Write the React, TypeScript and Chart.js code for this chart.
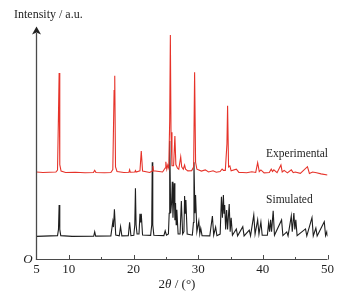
import React, { useEffect, useRef } from "react";
import { Chart, registerables } from "chart.js";

Chart.register(...registerables);

// Experimental pattern (2θ, intensity a.u.)
const expX = [
  5.0, 6.0, 7.0, 8.0, 8.25, 8.4, 8.5, 8.6, 8.8, 9.5, 11.0, 12.5, 13.8, 14.0, 14.2, 15.5, 16.5, 16.8, 17.0, 17.1,
  17.22, 17.45, 18.5, 19.3, 19.4, 19.5, 20.2, 20.3, 20.4, 21.0, 21.2, 21.4, 22.5, 22.9, 23.0, 23.1, 24.5, 24.9,
  25.0, 25.15, 25.3, 25.45, 25.6, 25.7, 25.8, 25.95, 26.2, 26.4, 26.55, 26.8, 27.0, 27.3, 27.45, 27.7, 27.9, 28.05,
  28.4, 29.0, 29.3, 29.45, 29.6, 29.8, 30.5, 31.1, 31.6, 32.3, 32.8, 33.4, 33.7, 33.9, 34.2, 34.45, 34.55, 34.7,
  34.9, 35.1, 35.9, 36.3, 36.9, 37.5, 38.3, 38.9, 39.2, 39.45, 39.7, 40.2, 41.0, 41.3, 41.5, 41.7, 42.2, 42.8,
  43.0, 43.3, 43.8, 44.4, 44.7, 45.0, 45.8, 46.9, 47.2, 47.7, 48.3, 49.0, 50.0,
];
const expY = [
  37.8, 37.6, 37.7, 37.8, 38.6, 63.0, 80.6, 41.0, 38.2, 37.6, 37.7, 37.5, 37.6, 38.5, 37.6, 37.5, 37.6, 38.8, 73.0, 79.4,
  40.0, 38.0, 37.6, 37.7, 38.7, 37.7, 37.8, 38.4, 37.8, 38.3, 46.9, 38.2, 37.6, 38.2, 40.4, 38.3, 37.8, 39.5,
  42.2, 39.0, 40.8, 39.5, 60.0, 97.0, 55.0, 40.5, 40.5, 53.3, 41.0, 39.5, 39.0, 44.3, 40.0, 39.0, 40.8, 39.0,
  38.3, 38.4, 40.0, 80.9, 42.0, 39.0, 38.2, 38.7, 37.8, 38.3, 37.7, 38.0, 39.1, 38.5, 38.5, 50.0, 66.4, 40.0,
  40.4, 38.3, 39.0, 37.6, 37.6, 37.5, 37.9, 37.6, 41.8, 38.0, 38.7, 37.4, 37.6, 39.0, 38.0, 38.7, 37.5, 40.8,
  37.8, 38.5, 37.4, 38.7, 37.5, 37.8, 37.2, 40.1, 37.2, 37.8, 37.5, 37.0, 36.5,
];

// Simulated pattern (2θ, intensity a.u.)
const simX = [
  5.0, 8.25, 8.4, 8.5, 8.6, 8.75, 10.5, 13.85, 14.0, 14.15, 16.5, 16.8, 16.9, 17.05, 17.25, 17.8, 18.0, 18.2, 19.2,
  19.4, 19.6, 20.05, 20.2, 20.3, 20.4, 20.55, 20.85, 21.0, 21.1, 21.2, 21.4, 22.65, 22.82, 22.9, 22.98, 23.15, 24.7,
  24.9, 25.1, 25.4, 25.52, 25.6, 25.75, 25.9, 26.0, 26.1, 26.3, 26.4, 26.5, 26.6, 26.7, 26.9, 27.2, 27.4, 27.6,
  27.8, 27.9, 28.0, 28.1, 28.3, 29.1, 29.27, 29.35, 29.5, 29.6, 29.8, 30.1, 30.25, 30.4, 30.6, 31.8, 32.2, 32.4,
  32.7, 32.9, 33.4, 33.6, 33.75, 33.9, 34.0, 34.1, 34.25, 34.4, 34.55, 34.8, 34.95, 35.1, 35.3, 35.9, 36.1, 36.9,
  37.1, 37.9, 38.1, 38.6, 38.8, 39.2, 39.4, 39.7, 39.9, 40.7, 40.9, 41.05, 41.2, 41.35, 41.6, 41.8, 42.9, 43.1,
  43.7, 43.9, 44.4, 44.55, 44.8, 44.95, 45.1, 45.3, 46.6, 46.8, 47.6, 47.8, 48.2, 48.4, 49.5, 49.7, 49.9, 50.0,
];
const simY = [
  10.0, 10.3, 13.0, 23.5, 13.0, 10.3, 10.0, 10.1, 12.0, 10.1, 10.2, 16.3, 14.0, 21.7, 10.6, 10.2, 14.2, 10.2, 10.3,
  16.1, 10.3, 10.5, 15.0, 30.8, 15.0, 11.0, 11.0, 19.7, 16.0, 19.7, 10.6, 10.4, 15.0, 42.0, 15.0, 10.5, 10.3,
  12.4, 10.5, 11.0, 20.0, 51.2, 20.0, 25.0, 33.6, 18.0, 32.9, 17.0, 24.4, 15.0, 21.5, 11.0, 11.0, 25.3, 11.0,
  12.0, 27.4, 20.0, 25.7, 11.0, 10.5, 16.0, 42.0, 20.0, 27.9, 12.0, 16.6, 11.0, 13.5, 10.3, 10.2, 18.8, 10.5,
  14.0, 10.3, 11.0, 27.1, 18.0, 27.9, 20.0, 23.5, 13.0, 21.4, 13.0, 24.0, 12.0, 18.0, 10.5, 13.2, 10.2, 14.2,
  10.2, 12.7, 10.2, 19.2, 11.0, 17.1, 11.0, 16.2, 10.5, 10.5, 15.8, 12.0, 17.1, 12.0, 21.0, 10.5, 17.1, 10.3,
  11.9, 10.2, 18.8, 12.0, 20.1, 13.0, 17.1, 10.3, 13.2, 10.2, 18.1, 10.2, 13.6, 10.2, 16.3, 10.3, 12.0, 10.0,
];

const seriesNames = ["Experimental", "Simulated"];
const seriesColors = ["#e6332a", "#1e1e1e"];
const seriesLabelX = [40.5, 40.5];
const seriesLabelY = [45.6, 25.7];

const xTickLabels = [5, 10, 20, 30, 40, 50];
const xMajorTicks = [10, 20, 30, 40, 50];
const xMinorTicks = [15, 25, 35, 45];
const yAxisTitle = "Intensity / a.u.";
const originLabel = "O";

const SERIF = '"Liberation Serif", "DejaVu Serif", serif';

const axesPlugin = {
  id: "customAxes",
  afterDatasetsDraw(chart: any) {
    const ctx = chart.ctx as CanvasRenderingContext2D;
    const xs = chart.scales.x;
    const ys = chart.scales.y;
    const x0 = xs.getPixelForValue(5);
    const x1 = xs.getPixelForValue(50);
    const yb = ys.getPixelForValue(0);
    ctx.save();
    ctx.strokeStyle = "#4a4a4a";
    ctx.lineWidth = 1.2;
    // x axis
    ctx.beginPath();
    ctx.moveTo(x0 - 0.6, yb);
    ctx.lineTo(x1, yb);
    ctx.stroke();
    ctx.lineWidth = 1;
    for (const t of xMajorTicks) {
      const px = Math.round(xs.getPixelForValue(t)) + 0.5;
      ctx.beginPath();
      ctx.moveTo(px, yb);
      ctx.lineTo(px, yb - 4.5);
      ctx.stroke();
    }
    for (const t of xMinorTicks) {
      const px = Math.round(xs.getPixelForValue(t)) + 0.5;
      ctx.beginPath();
      ctx.moveTo(px, yb);
      ctx.lineTo(px, yb - 2.5);
      ctx.stroke();
    }
    // y axis with arrow
    ctx.lineWidth = 1.3;
    ctx.beginPath();
    ctx.moveTo(x0, yb);
    ctx.lineTo(x0, 33);
    ctx.stroke();
    ctx.fillStyle = "#222";
    ctx.beginPath();
    ctx.moveTo(x0, 26.5);
    ctx.lineTo(x0 - 4.5, 34.5);
    ctx.lineTo(x0, 32.5);
    ctx.lineTo(x0 + 4.5, 34.5);
    ctx.closePath();
    ctx.fill();

    // tick labels
    ctx.fillStyle = "#1e1e1e";
    ctx.font = `13px ${SERIF}`;
    ctx.textAlign = "center";
    ctx.textBaseline = "middle";
    for (const t of xTickLabels) {
      ctx.fillText(String(t), xs.getPixelForValue(t), yb + 10.5);
    }
    // origin
    ctx.font = `italic 13px ${SERIF}`;
    ctx.fillText(originLabel, x0 - 8.5, yb);

    // y axis title
    ctx.font = `12px ${SERIF}`;
    ctx.textAlign = "left";
    ctx.fillText(yAxisTitle, 14, 15);

    // x axis title: 2θ / (°)
    const parts: [string, string][] = [
      ["2", `13px ${SERIF}`],
      ["θ", `italic 13px ${SERIF}`],
      [" / (°)", `13px ${SERIF}`],
    ];
    let total = 0;
    for (const [s, f] of parts) {
      ctx.font = f;
      total += ctx.measureText(s).width;
    }
    let cx = 177 - total / 2;
    for (const [s, f] of parts) {
      ctx.font = f;
      ctx.fillText(s, cx, 285);
      cx += ctx.measureText(s).width;
    }

    // series labels
    ctx.font = `11.5px ${SERIF}`;
    for (let i = 0; i < seriesNames.length; i++) {
      ctx.fillText(seriesNames[i], xs.getPixelForValue(seriesLabelX[i]), ys.getPixelForValue(seriesLabelY[i]));
    }
    ctx.restore();
  },
};

export default function App() {
  const ref = useRef<HTMLCanvasElement | null>(null);
  useEffect(() => {
    document.body.style.margin = "0";
    const canvas = ref.current;
    if (!canvas) return;
    const chart = new Chart(canvas, {
      type: "line",
      data: {
        datasets: [
          {
            label: seriesNames[0],
            data: expX.map((x, i) => ({ x, y: expY[i] })),
            borderColor: seriesColors[0],
            borderWidth: 1.1,
            pointRadius: 0,
            fill: false,
            tension: 0,
            order: 0,
          },
          {
            label: seriesNames[1],
            data: simX.map((x, i) => ({ x, y: simY[i] })),
            borderColor: seriesColors[1],
            borderWidth: 1.1,
            pointRadius: 0,
            fill: false,
            tension: 0,
            order: 1,
          },
        ],
      },
      options: {
        animation: false,
        responsive: false,
        maintainAspectRatio: false,
        layout: { padding: { left: 36.5, right: 17.5, top: 28, bottom: 36.5 } },
        plugins: { legend: { display: false }, tooltip: { enabled: false } },
        scales: {
          x: { type: "linear", min: 5, max: 50, display: false },
          y: { type: "linear", min: 0, max: 100, display: false },
        },
      },
      plugins: [axesPlugin],
    });
    return () => chart.destroy();
  }, []);
  return (
    <div style={{ width: 345, height: 296, background: "#fff" }}>
      <canvas ref={ref} width={345} height={296} style={{ display: "block" }} />
    </div>
  );
}
